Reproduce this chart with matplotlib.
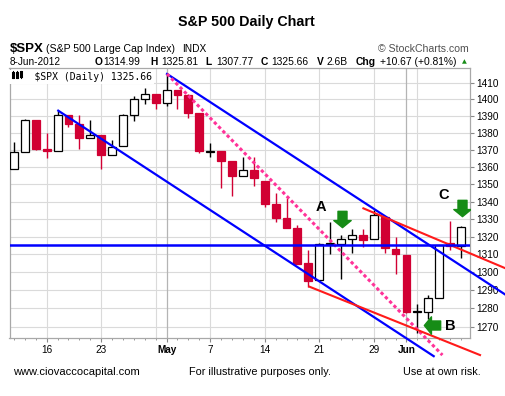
import numpy as np
import matplotlib
matplotlib.use("Agg")
import matplotlib.pyplot as plt
from matplotlib.path import Path
from matplotlib.lines import Line2D
from matplotlib.ticker import FixedLocator, FixedFormatter, NullLocator

# daily S&P 500 bars, Apr 11 .. Jun 8 2012 (42 sessions)
opens = [1358.98, 1368.77, 1387.61, 1370.27, 1369.57, 1390.78, 1385.08, 1376.96,
         1378.53, 1366.97, 1372.11, 1390.64, 1400.19, 1403.26, 1397.86, 1405.50,
         1402.32, 1391.51, 1368.79, 1369.16, 1363.20, 1354.58, 1358.11, 1351.93,
         1338.36, 1330.78, 1324.82, 1305.05, 1295.73, 1316.09, 1316.02, 1318.72,
         1320.81, 1318.90, 1331.25, 1313.09, 1309.87, 1278.29, 1277.82, 1285.61,
         1316.15, 1314.99]
highs = [1374.71, 1388.13, 1387.61, 1379.66, 1392.76, 1390.78, 1390.46, 1387.40,
         1378.53, 1375.57, 1391.37, 1402.09, 1406.64, 1403.26, 1415.32, 1405.50,
         1403.07, 1391.51, 1373.91, 1369.16, 1363.73, 1365.88, 1365.66, 1351.93,
         1344.94, 1341.78, 1326.36, 1312.24, 1316.39, 1328.49, 1320.71, 1324.14,
         1324.20, 1334.93, 1331.25, 1319.74, 1309.87, 1282.55, 1287.62, 1315.13,
         1329.05, 1325.81]
lows = [1358.98, 1368.77, 1369.85, 1365.38, 1369.57, 1383.29, 1370.30, 1376.96,
        1358.79, 1366.82, 1372.11, 1387.28, 1397.31, 1394.00, 1395.73, 1393.92,
        1388.71, 1367.96, 1365.76, 1347.75, 1343.13, 1354.58, 1348.89, 1336.61,
        1328.41, 1324.79, 1304.86, 1291.98, 1295.73, 1310.04, 1296.53, 1310.50,
        1314.23, 1318.90, 1310.76, 1298.90, 1277.25, 1266.74, 1274.16, 1285.61,
        1312.68, 1307.77]
closes = [1368.71, 1387.57, 1370.26, 1369.57, 1390.78, 1385.14, 1376.92, 1378.53,
          1366.94, 1371.97, 1390.69, 1399.98, 1403.36, 1397.91, 1405.82, 1402.31,
          1391.57, 1369.10, 1369.58, 1363.72, 1354.58, 1357.99, 1353.39, 1338.35,
          1330.66, 1324.80, 1304.86, 1295.22, 1315.99, 1316.63, 1318.86, 1320.68,
          1317.82, 1332.42, 1313.32, 1310.33, 1278.04, 1278.18, 1285.50, 1315.13,
          1314.99, 1325.66]
prev_close = 1358.59

tick_pos = [3, 8, 14, 18, 23, 28, 33, 36]
tick_labels = ["16", "23", "May", "7", "14", "21", "29", "Jun"]
week_lines = [3, 8, 13, 18, 23, 28, 33, 37]
month_lines = [14, 36]
price_ticks = list(range(1270, 1411, 10))

# hand drawn trendlines: (day index, price) end points
chan_upper = [(14.04, 1415.3), (45.05, 1287.7)]
chan_lower = [(4.06, 1393.2), (38.5, 1254.1)]
pink_line = [(14.04, 1415.3), (39.3, 1254.7)]
support_level = 1315.0
red_upper = [(32.05, 1336.1), (45.05, 1302.3)]
red_lower = [(27.1, 1292.0), (42.75, 1254.7)]

# annotations
letters = [("A", 28.2, 1337.0), ("B", 40.0, 1270.6), ("C", 39.4, 1343.7)]
down_arrows = [(30.05, 1330.0), (41.1, 1336.3)]
left_arrows = [(38.3, 1271.0)]

W, H = 505, 396
fig = plt.figure(figsize=(W / 100, H / 100), dpi=100)


def fx(x):
    return x / W


def fy(y):
    return 1 - y / H


ax = fig.add_axes([fx(9.5), fy(338), (470 - 9.5) / W, (338 - 68) / H])
ax.set_yscale("log")
ax.set_ylim(1263.9, 1418.9)
ax.set_xlim(-0.41, 41.83)

RED = "#d10033"
n = len(closes)
for i in range(n):
    o, h, l, c = opens[i], highs[i], lows[i], closes[i]
    pc = prev_close if i == 0 else closes[i - 1]
    col = "black" if c >= pc else RED
    face = "white" if c > o else col
    ax.vlines(i, l, h, color=col, lw=1.0, zorder=2)
    lo, hi = min(o, c), max(o, c)
    if hi - lo < 0.4:
        hi = lo + 0.4
    ax.bar(i, hi - lo, bottom=lo, width=0.72, facecolor=face, edgecolor=col,
           lw=0.9, zorder=3)

# grid
for p in price_ticks:
    ax.axhline(p, color="#dadada", lw=0.8, zorder=0)
for w in week_lines:
    ax.axvline(w, color="#dadada", lw=0.8, zorder=0)
for m in month_lines:
    ax.axvline(m, color="#b4b4b4", lw=0.9, zorder=0)

# trendlines
def seg(pts, **kw):
    xs = [p[0] for p in pts]
    ys = [p[1] for p in pts]
    ax.plot(xs, ys, clip_on=False, zorder=5, **kw)

seg(chan_upper, color="#0000ff", lw=1.6)
seg(chan_lower, color="#0000ff", lw=1.6)
seg(pink_line, color="#ff3399", lw=2.2, ls=(0, (1.1, 0.9)))
seg(red_upper, color="#ff1a1a", lw=1.5)
seg(red_lower, color="#ff1a1a", lw=1.5)
ax.axhline(support_level, color="#0000ff", lw=1.8, zorder=5)

# arrows as custom markers
down_verts = [(-0.26, 0.47), (0.26, 0.47), (0.26, -0.06), (0.5, -0.06), (0, -0.47),
              (-0.5, -0.06), (-0.26, -0.06), (-0.26, 0.47)]
down_path = Path(down_verts, closed=True)
left_path = Path([(y, x) for x, y in down_verts], closed=True)
GREEN = "#168c16"
for x, y in down_arrows:
    ax.plot(x, y, marker=down_path, ms=12.5, color=GREEN, mec=GREEN, zorder=6)
for x, y in left_arrows:
    ax.plot(x, y, marker=left_path, ms=12.5, color=GREEN, mec=GREEN, zorder=6)
for t, x, y in letters:
    ax.text(x, y, t, ha="center", va="center", fontsize=10.5, fontweight="bold",
            family="Liberation Sans", zorder=7)

# axes styling
for s in ax.spines.values():
    s.set_color("#a8a8a8")
    s.set_linewidth(0.9)
ax.yaxis.tick_right()
ax.yaxis.set_major_locator(FixedLocator(price_ticks))
ax.yaxis.set_major_formatter(FixedFormatter([str(p) for p in price_ticks]))
ax.yaxis.set_minor_locator(NullLocator())
ax.xaxis.set_major_locator(FixedLocator(tick_pos))
ax.xaxis.set_major_formatter(FixedFormatter(tick_labels))
ax.xaxis.set_minor_locator(FixedLocator(list(range(n))))
ax.tick_params(axis="y", which="major", length=3, width=0.8, color="#888888",
               pad=1.5, labelsize=7.2)
ax.tick_params(axis="x", which="major", length=3, width=0.8, color="#888888",
               pad=2, labelsize=7.2)
ax.tick_params(axis="x", which="minor", length=1.5, width=0.6, color="#888888")
for lab in ax.get_xticklabels() + ax.get_yticklabels():
    lab.set_family("Liberation Sans")
for lab in ax.get_xticklabels():
    if lab.get_text() in ("May", "Jun"):
        lab.set_fontweight("bold")

# header
fig.text(fx(246), fy(22), "S&P 500 Daily Chart", ha="center", va="center",
         fontsize=10.3, fontweight="bold", family="Liberation Sans")
fig.text(fx(10), fy(48.5), "$SPX", ha="left", va="center", fontsize=9.5,
         fontweight="bold", family="Liberation Sans")
fig.text(fx(46.5), fy(48.5), "(S&P 500 Large Cap Index)", ha="left", va="center",
         fontsize=7.6, family="Liberation Sans")
fig.text(fx(182.5), fy(48.5), "INDX", ha="left", va="center", fontsize=7.3,
         family="Liberation Sans")
fig.text(fx(469), fy(48.5), "\u00a9 StockCharts.com", ha="right", va="center",
         fontsize=7.6, family="Liberation Sans", color="#505050")

fig.text(fx(10), fy(61.7), "8-Jun-2012", ha="left", va="center", fontsize=7.2,
         family="Liberation Sans")
quote = [("O", 95, "1314.99", 103), ("H", 150.5, "1325.81", 161), ("L", 205, "1307.77", 216),
         ("C", 260.5, "1325.66", 271.5), ("V", 316.5, "2.6B", 326.5),
         ("Chg", 356, "+10.67 (+0.81%)", 380)]
for k, kx, v, vx in quote:
    fig.text(fx(kx), fy(61.7), k, ha="left", va="center", fontsize=7.4,
             fontweight="bold", family="Liberation Sans")
    fig.text(fx(vx), fy(61.7), v, ha="left", va="center", fontsize=7.4,
             family="Liberation Sans")
fig.text(fx(464.5), fy(62), "\u25b2", ha="center", va="center", fontsize=4.5,
         color=GREEN)

# legend line inside the chart
ax.text(0.0035, 0.985, "    $SPX (Daily) 1325.66", transform=ax.transAxes,
        ha="left", va="top", fontsize=7, family="DejaVu Sans Mono", zorder=8,
        bbox=dict(facecolor="white", edgecolor="none", pad=1.2))
for ix, (top, bot, btop, bbot) in enumerate([(71, 78, 72.5, 76.5), (71, 78, 73, 77),
                                              (70.5, 77.5, 72, 76)]):
    xx = 13 + ix * 4
    fig.add_artist(Line2D([fx(xx), fx(xx)], [fy(top), fy(bot)], color="black",
                          lw=0.8, zorder=9))
    fig.add_artist(Line2D([fx(xx), fx(xx)], [fy(btop), fy(bbot)], color="black",
                          lw=2.2, zorder=9))

# footer
fig.text(fx(13.5), fy(371.7), "www.ciovaccocapital.com", ha="left", va="center",
         fontsize=8, family="Liberation Sans")
fig.text(fx(189.3), fy(371.7), "For illustrative purposes only.", ha="left",
         va="center", fontsize=7.8, family="Liberation Sans")
fig.text(fx(403), fy(371.7), "Use at own risk.", ha="left", va="center",
         fontsize=7.8, family="Liberation Sans")

fig.savefig("out.png", dpi=100)
